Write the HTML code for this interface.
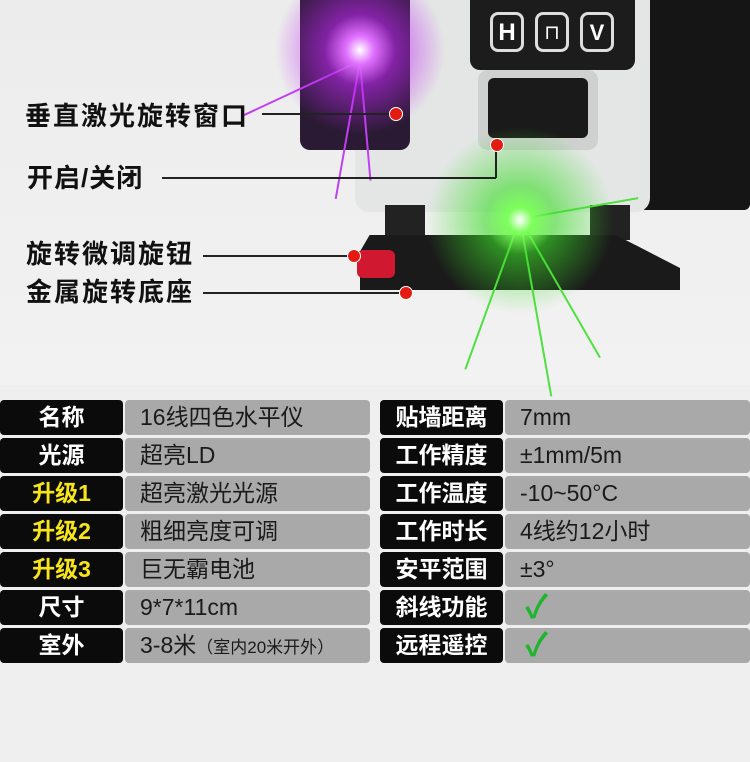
<!DOCTYPE html><html><head><meta charset="utf-8"><style>
body{margin:0;width:750px;height:762px;overflow:hidden;background:#efefef;font-family:"Liberation Sans","Noto Sans CJK SC",sans-serif;position:relative}
.a{position:absolute}
.lbl{position:absolute;font-size:26px;font-weight:bold;color:#111;letter-spacing:2px;line-height:28px}
.line{position:absolute;height:2px;background:#222}
.dot{position:absolute;width:12px;height:12px;border-radius:50%;background:#e31b12;border:1px solid #fff}
.c{position:absolute;height:35px;border-radius:4px;line-height:35px;font-size:23px}
.k{background:#0b0b0b;color:#fff;font-weight:bold;text-align:center;width:123px}
.v{background:#a9a9a9;color:#1a1a1a;padding-left:15px;box-sizing:border-box}
.y{color:#f7e51a}
.ray{position:absolute;height:2px;transform-origin:0 50%}
</style></head><body>
<div class="a" style="left:0;top:0;width:750px;height:385px;background:linear-gradient(#ececec,#f2f2f2)"></div>
<div class="a" style="left:640px;top:0;width:110px;height:210px;background:#151515;border-radius:0 0 6px 6px"></div>
<div class="a" style="left:355px;top:0;width:295px;height:212px;background:#e4e6e6;border-radius:0 0 14px 14px"></div>
<div class="a" style="left:470px;top:0;width:165px;height:70px;background:#1c1c1c;border-radius:0 0 10px 10px"></div>
<div class="a" style="left:490px;top:12px;width:34px;height:40px;border:3px solid #ddd;border-radius:8px;color:#fff;font-size:24px;font-weight:bold;text-align:center;line-height:36px;box-sizing:border-box">H</div>
<div class="a" style="left:535px;top:12px;width:34px;height:40px;border:3px solid #ddd;border-radius:8px;color:#fff;font-size:20px;text-align:center;line-height:36px;box-sizing:border-box">⊓</div>
<div class="a" style="left:580px;top:12px;width:34px;height:40px;border:3px solid #ddd;border-radius:8px;color:#fff;font-size:22px;font-weight:bold;text-align:center;line-height:36px;box-sizing:border-box">V</div>
<div class="a" style="left:478px;top:70px;width:120px;height:80px;background:#cfd1d1;border-radius:10px"></div>
<div class="a" style="left:488px;top:78px;width:100px;height:60px;background:#1a1a1a;border-radius:6px"></div>
<div class="a" style="left:300px;top:0;width:110px;height:150px;background:#2a1a33;border-radius:0 0 10px 10px"></div>
<div class="ray" style="left:360px;top:60px;width:130px;background:#c040f0;transform:rotate(155deg)"></div>
<div class="ray" style="left:360px;top:60px;width:140px;background:#c040f0;transform:rotate(100deg)"></div>
<div class="ray" style="left:360px;top:60px;width:120px;background:#c040f0;transform:rotate(85deg)"></div>
<div class="a" style="left:270px;top:-60px;width:180px;height:220px;border-radius:50%;background:radial-gradient(circle,#fff 0,#e070ff 10%,rgba(190,40,240,.6) 25%,rgba(190,40,240,0) 60%)"></div>
<div class="a" style="left:385px;top:205px;width:40px;height:35px;background:#222"></div>
<div class="a" style="left:590px;top:205px;width:40px;height:35px;background:#222"></div>
<div class="a" style="left:360px;top:235px;width:320px;height:55px;background:#1a1a1a;clip-path:polygon(3% 0,80% 0,100% 60%,100% 100%,0 100%,0 30%)"></div>
<div class="ray" style="left:520px;top:218px;width:180px;background:#50e040;transform:rotate(80deg)"></div>
<div class="ray" style="left:520px;top:218px;width:160px;background:#50e040;transform:rotate(60deg)"></div>
<div class="ray" style="left:520px;top:218px;width:160px;background:#50e040;transform:rotate(110deg)"></div>
<div class="ray" style="left:520px;top:218px;width:120px;background:#50e040;transform:rotate(-10deg)"></div>
<div class="a" style="left:400px;top:120px;width:240px;height:200px;border-radius:50%;background:radial-gradient(circle,#fff 0,#7cff5a 8%,rgba(60,220,40,.6) 22%,rgba(60,220,40,0) 60%)"></div>
<div class="a" style="left:357px;top:250px;width:38px;height:28px;background:#d01830;border-radius:6px"></div>
<div class="lbl" style="left:25px;top:102px">垂直激光旋转窗口</div>
<div class="line" style="left:262px;top:113px;width:130px"></div><div class="dot" style="left:389px;top:107px"></div>
<div class="lbl" style="left:27px;top:164px;letter-spacing:1px">开启/关闭</div>
<div class="line" style="left:162px;top:177px;width:334px"></div><div class="line" style="left:495px;top:145px;width:2px;height:33px"></div><div class="dot" style="left:490px;top:138px"></div>
<div class="lbl" style="left:26px;top:240px">旋转微调旋钮</div>
<div class="line" style="left:203px;top:255px;width:147px"></div><div class="dot" style="left:347px;top:249px"></div>
<div class="lbl" style="left:26px;top:278px">金属旋转底座</div>
<div class="line" style="left:203px;top:292px;width:199px"></div><div class="dot" style="left:399px;top:286px"></div>
<div class="c k" style="left:0;top:400px">名称</div><div class="c v" style="left:125px;top:400px;width:245px">16线四色水平仪</div>
<div class="c k" style="left:0;top:438px">光源</div><div class="c v" style="left:125px;top:438px;width:245px">超亮LD</div>
<div class="c k y" style="left:0;top:476px">升级1</div><div class="c v" style="left:125px;top:476px;width:245px">超亮激光光源</div>
<div class="c k y" style="left:0;top:514px">升级2</div><div class="c v" style="left:125px;top:514px;width:245px">粗细亮度可调</div>
<div class="c k y" style="left:0;top:552px">升级3</div><div class="c v" style="left:125px;top:552px;width:245px">巨无霸电池</div>
<div class="c k" style="left:0;top:590px">尺寸</div><div class="c v" style="left:125px;top:590px;width:245px">9*7*11cm</div>
<div class="c k" style="left:0;top:628px">室外</div><div class="c v" style="left:125px;top:628px;width:245px">3-8米<span style="font-size:17px">（室内20米开外）</span></div>
<div class="c k" style="left:380px;top:400px">贴墙距离</div><div class="c v" style="left:505px;top:400px;width:245px">7mm</div>
<div class="c k" style="left:380px;top:438px">工作精度</div><div class="c v" style="left:505px;top:438px;width:245px">±1mm/5m</div>
<div class="c k" style="left:380px;top:476px">工作温度</div><div class="c v" style="left:505px;top:476px;width:245px">-10~50°C</div>
<div class="c k" style="left:380px;top:514px">工作时长</div><div class="c v" style="left:505px;top:514px;width:245px">4线约12小时</div>
<div class="c k" style="left:380px;top:552px">安平范围</div><div class="c v" style="left:505px;top:552px;width:245px">±3°</div>
<div class="c k" style="left:380px;top:590px">斜线功能</div><div class="c v" style="left:505px;top:590px;width:245px;color:#1fb52e;font-size:32px;padding-left:20px;font-weight:bold">✓</div>
<div class="c k" style="left:380px;top:628px">远程遥控</div><div class="c v" style="left:505px;top:628px;width:245px;color:#1fb52e;font-size:32px;padding-left:20px;font-weight:bold">✓</div>
</body></html>
